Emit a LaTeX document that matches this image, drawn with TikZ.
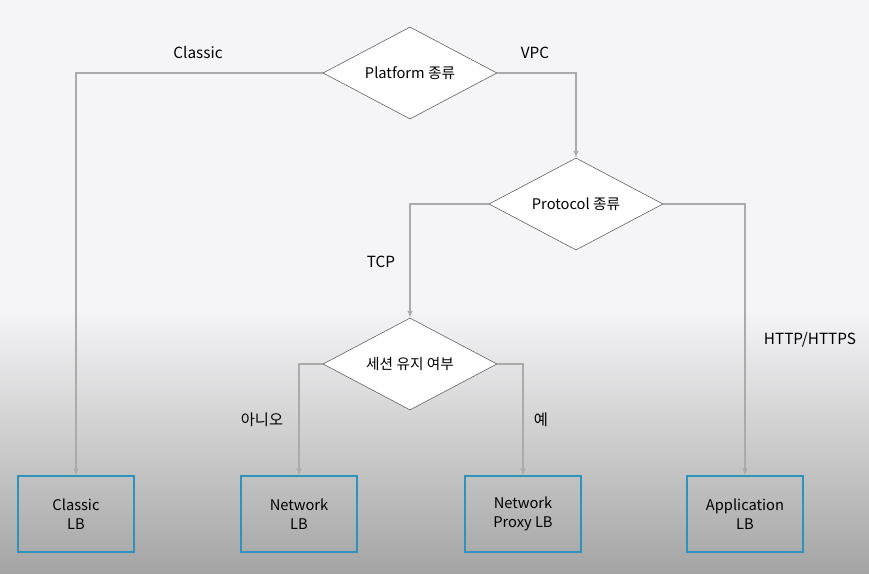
\documentclass[tikz,border=0pt]{standalone}
\usepackage{fontspec}
\setmainfont{Noto Sans CJK KR}
\usetikzlibrary{shapes.geometric, arrows, positioning}

\definecolor{bgtop}{HTML}{F5F5F7}
\definecolor{bgbottom}{HTML}{A4A4A4}
\definecolor{linegray}{HTML}{ABABAB}
\definecolor{edgegray}{HTML}{555555}
\definecolor{lbblue}{HTML}{2C93BC}

\begin{document}
\begin{tikzpicture}[
      x=0.75pt,
      y=-0.75pt,
      decision/.style={
          diamond,
          draw=edgegray,
          fill=white,
          aspect=2.5,
          inner sep=1pt,
          minimum width=130.5pt,
          minimum height=69pt,
          font=\fontsize{11}{13}\selectfont
        },
      lb/.style={
          rectangle,
          draw=lbblue,
          line width=1.4pt,
          align=center,
          minimum width=87pt,
          minimum height=56.5pt,
          font=\fontsize{11}{14.5}\selectfont
        },
      tag/.style={
          font=\fontsize{11.5}{13}\selectfont
        },
      arrow/.style={
          -latex,
          draw=linegray,
          line width=0.8pt
        }
    ]

    % Background
    \fill[bgtop] (0,0) rectangle (869,574);
    \shade[top color=bgtop, bottom color=bgbottom] (0,310) rectangle (869,574);

    % Nodes
    \node[decision] (platform) at (410,73) {Platform 종류};
    \node[decision] (protocol) at (576,204) {Protocol 종류};
    \node[decision] (session) at (410,364) {세션 유지 여부};
    \node[lb] (classic) at (76,514) {Classic\\LB};
    \node[lb] (network) at (299,514) {Network\\LB};
    \node[lb] (proxy) at (523,514) {Network\\Proxy LB};
    \node[lb] (application) at (745,514) {Application\\LB};

    % Labels
    \node[tag] (lclassic) at (198,53) {Classic};
    \node[tag] (lvpc) at (535,53) {VPC};
    \node[tag] (ltcp) at (381,262) {TCP};
    \node[tag] (lhttp) at (810,340) {HTTP/HTTPS};
    \node[tag] (lno) at (262,420) {아니오};
    \node[tag] (lyes) at (541,420) {예};

    % Arrows
    \draw[arrow] (platform.west) -| (classic.north);
    \draw[arrow] (platform.east) -| (protocol.north);
    \draw[arrow] (protocol.west) -| (session.north);
    \draw[arrow] (protocol.east) -| (application.north);
    \draw[arrow] (session.west) -| (network.north);
    \draw[arrow] (session.east) -| (proxy.north);

  \end{tikzpicture}
\end{document}
